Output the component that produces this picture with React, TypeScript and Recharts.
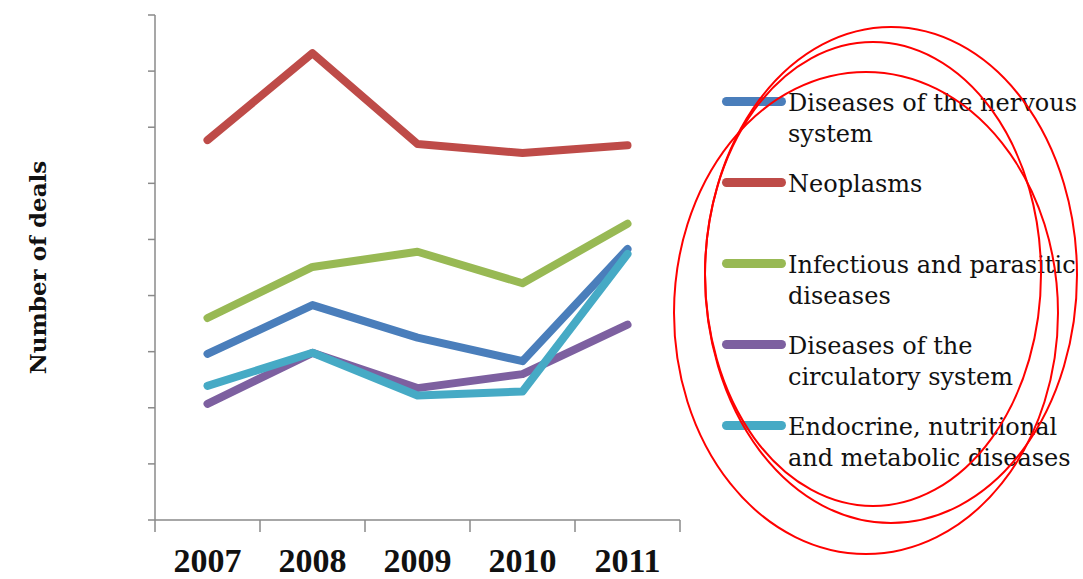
import React from "react";
import { Line, LineChart, XAxis, YAxis } from "recharts";

// values (unit = one y tick step, no labels in the original)
const years = ["2007", "2008", "2009", "2010", "2011"];
const nervous = [2.96, 3.83, 3.25, 2.83, 4.83];
const neoplasms = [6.77, 8.32, 6.7, 6.54, 6.68];
const infectious = [3.6, 4.51, 4.78, 4.22, 5.28];
const circulatory = [2.07, 2.98, 2.35, 2.6, 3.48];
const endocrine = [2.39, 2.98, 2.22, 2.29, 4.74];
const yTicks = [0, 1, 2, 3, 4, 5, 6, 7, 8, 9];
const edgeTicks = [0, 1, 2, 3, 4, 5];
const yearTicks = [0.5, 1.5, 2.5, 3.5, 4.5];

const series = [
  { key: "nervous", label: ["Diseases of the nervous", "system"], color: "#4a7ebb", values: nervous },
  { key: "neoplasms", label: ["Neoplasms"], color: "#be4b48", values: neoplasms },
  { key: "infectious", label: ["Infectious and parasitic", "diseases"], color: "#98b954", values: infectious },
  { key: "circulatory", label: ["Diseases of the", "circulatory system"], color: "#7d60a0", values: circulatory },
  { key: "endocrine", label: ["Endocrine, nutritional", "and metabolic diseases"], color: "#46aac5", values: endocrine },
];

// each year sits in the middle of its slot between two axis ticks
const data = years.map((year, i) => {
  const row: Record<string, string | number> = { year, x: i + 0.5 };
  series.forEach((s) => {
    row[s.key] = s.values[i];
  });
  return row;
});

const axisColor = "#8a8a8a";

function YLabel(props: any) {
  const vb = props.viewBox || { y: 15, height: 505 };
  const cy = vb.y + vb.height / 2;
  const x = 46;
  return (
    <text
      x={x}
      y={cy}
      transform={`rotate(-90, ${x}, ${cy})`}
      textAnchor="middle"
      fontFamily="DejaVu Serif"
      fontWeight="bold"
      fontSize={23}
      fill="#111"
    >
      Number of deals
    </text>
  );
}

function LegendBox() {
  return (
    <div style={{ position: "absolute", left: 0, top: 0 }}>
      {series.map((s, i) => {
        const cy = 101 + i * 81;
        return (
          <React.Fragment key={s.key}>
            <div
              style={{
                position: "absolute",
                left: 722,
                top: cy - 4.5,
                width: 64,
                height: 9,
                borderRadius: 4.5,
                background: s.color,
              }}
            />
            <div
              style={{
                position: "absolute",
                left: 788,
                top: cy - 13,
                fontFamily: "DejaVu Serif",
                fontSize: 24,
                lineHeight: "31px",
                color: "#111",
                whiteSpace: "nowrap",
              }}
            >
              {s.label.map((t) => (
                <div key={t}>{t}</div>
              ))}
            </div>
          </React.Fragment>
        );
      })}
    </div>
  );
}

function Circles() {
  return (
    <svg
      width={1083}
      height={579}
      style={{ position: "absolute", left: 0, top: 0, pointerEvents: "none" }}
    >
      <g fill="none" stroke="#ff0000" strokeWidth={2}>
        <ellipse cx={866} cy={313} rx={192} ry={241} />
        <ellipse cx={891} cy={275} rx={186} ry={248} />
        <ellipse cx={873} cy={274} rx={168} ry={232} />
      </g>
    </svg>
  );
}

export default function App() {
  return (
    <div
      style={{
        position: "absolute",
        left: 0,
        top: 0,
        width: 1083,
        height: 579,
        background: "#fff",
        overflow: "hidden",
      }}
    >
      <LineChart
        width={1083}
        height={579}
        data={data}
        margin={{ top: 15, right: 403, bottom: 0, left: 0 }}
      >
        <XAxis
          xAxisId="edges"
          dataKey="x"
          type="number"
          domain={[0, 5]}
          ticks={edgeTicks}
          height={12}
          tickSize={12}
          tickFormatter={() => ""}
          stroke={axisColor}
          strokeWidth={1.5}
          tickLine={{ stroke: axisColor, strokeWidth: 1.5 }}
        />
        <XAxis
          xAxisId="year"
          dataKey="x"
          type="number"
          domain={[0, 5]}
          ticks={yearTicks}
          height={47}
          axisLine={false}
          tickLine={false}
          tickSize={0}
          tickMargin={16}
          interval={0}
          tickFormatter={(v: number) => years[Math.floor(v)]}
          tick={{
            fontFamily: "Liberation Serif",
            fontWeight: "bold",
            fontSize: 34,
            fill: "#111",
          }}
        />
        <YAxis
          width={155}
          domain={[0, 9]}
          ticks={yTicks}
          tickSize={7}
          tickFormatter={() => ""}
          stroke={axisColor}
          strokeWidth={1.5}
          tickLine={{ stroke: axisColor, strokeWidth: 1.5 }}
          label={<YLabel />}
        />
        {series.map((s) => (
          <Line
            key={s.key}
            xAxisId="edges"
            dataKey={s.key}
            name={s.label.join(" ")}
            stroke={s.color}
            strokeWidth={8}
            strokeLinecap="round"
            strokeLinejoin="round"
            dot={false}
            activeDot={false}
            isAnimationActive={false}
          />
        ))}
      </LineChart>
      <LegendBox />
      <Circles />
    </div>
  );
}
